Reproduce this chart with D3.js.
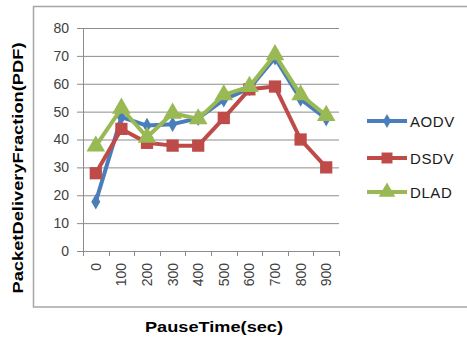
<!DOCTYPE html>
<html><head><meta charset="utf-8">
<script src="https://cdn.jsdelivr.net/npm/d3@7"></script>
<style>html,body{margin:0;padding:0;background:#fff;}svg{display:block;}</style>
</head><body>
<script>
const categories = ["0","100","200","300","400","500","600","700","800","900"];
const aodv = [17.7, 48, 45, 45.5, 47.6, 54.3, 58.3, 69.3, 54.5, 47.5];
const dsdv = [27.9, 43.8, 38.8, 37.8, 37.8, 47.7, 58, 59, 40, 30];
const dlad = [37.6, 51.2, 40.8, 49.4, 47.4, 56, 59, 70.4, 56, 48.6];
const yTicks = [0,10,20,30,40,50,60,70,80];
const seriesNames = ["AODV","DSDV","DLAD"];
const seriesColors = ["#4a7ebb","#be4b48","#98b954"];

const W = 467, H = 338;
const svg = d3.select("body").append("svg").attr("width", W).attr("height", H);

// outer frame
svg.append("rect").attr("x",33.5).attr("y",6.5).attr("width",W).attr("height",300.5)
  .attr("fill","none").attr("stroke","#a6a6a6").attr("stroke-width",1.5);

const x = d3.scaleBand().domain(categories).range([83, 339]);
const y = d3.scaleLinear().domain([0,80]).range([251, 28]);

// gridlines + y axis
const yAxis = d3.axisLeft(y).tickValues(yTicks).tickSize(6).tickPadding(8);
const gy = svg.append("g").attr("transform","translate(83,0)").call(yAxis);
gy.select(".domain").attr("stroke","#8c8c8c");
gy.selectAll(".tick line").attr("stroke","#8c8c8c");
gy.selectAll(".tick text").attr("fill","#404040").style("font-family","Liberation Sans, Arial, sans-serif").style("font-size","14px").attr("x",-14);
svg.append("g").selectAll("line").data(yTicks.filter(d=>d>0)).join("line")
  .attr("x1",83).attr("x2",339).attr("y1",d=>y(d)+0.5).attr("y2",d=>y(d)+0.5)
  .attr("stroke","#8c8c8c").attr("stroke-width",1);

// x axis
svg.append("line").attr("x1",83).attr("x2",339).attr("y1",y(0)+0.5).attr("y2",y(0)+0.5).attr("stroke","#8c8c8c");
const bounds = categories.map(c=>x(c)).concat([x.range()[1]]);
svg.append("g").selectAll("line").data(bounds).join("line")
  .attr("x1",d=>Math.round(d)+0.5).attr("x2",d=>Math.round(d)+0.5).attr("y1",y(0)).attr("y2",y(0)+5)
  .attr("stroke","#8c8c8c");
svg.append("g").selectAll("text").data(categories).join("text")
  .attr("transform",d=>`translate(${x(d)+x.bandwidth()/2+5},263) rotate(-90)`)
  .attr("text-anchor","end")
  .attr("fill","#404040").style("font-family","Liberation Sans, Arial, sans-serif").style("font-size","14px")
  .text(d=>d);

// series
const data = [aodv, dsdv, dlad];
const line = d3.line().x((d,i)=>x(categories[i])+x.bandwidth()/2).y(d=>y(d));
const symbols = [d3.symbolDiamond, d3.symbolSquare, d3.symbolTriangle];
const sizes = [70, 150, 150];
data.forEach((vals, s) => {
  svg.append("path").datum(vals).attr("d", line).attr("fill","none")
    .attr("stroke", seriesColors[s]).attr("stroke-width",4).attr("stroke-linejoin","round");
  svg.append("g").selectAll("path").data(vals).join("path")
    .attr("transform",(d,i)=>`translate(${x(categories[i])+x.bandwidth()/2},${y(d)})`)
    .attr("d", d3.symbol().type(symbols[s]).size(sizes[s]))
    .attr("fill", seriesColors[s]);
});

// legend
const legY = [121, 158, 192];
seriesNames.forEach((n, s) => {
  const g = svg.append("g");
  g.append("line").attr("x1",367).attr("x2",407).attr("y1",legY[s]).attr("y2",legY[s])
    .attr("stroke",seriesColors[s]).attr("stroke-width",4);
  g.append("path").attr("transform",`translate(387,${legY[s]})`)
    .attr("d", d3.symbol().type(symbols[s]).size(sizes[s]*0.8)).attr("fill",seriesColors[s]);
  g.append("text").attr("x",410).attr("y",legY[s]+5.5)
    .style("font-family","Liberation Sans, Arial, sans-serif").style("font-size","15px")
    .attr("fill","#1a1a1a").style("letter-spacing","0.6px").text(n);
});

// axis titles
svg.append("text").attr("transform","translate(23,168) rotate(-90)").attr("text-anchor","middle")
  .style("font-family","Liberation Sans, Arial, sans-serif").style("font-size","15px").style("font-weight","bold")
  .attr("textLength",251).attr("lengthAdjust","spacingAndGlyphs")
  .text("PacketDeliveryFraction(PDF)");
svg.append("text").attr("x",214).attr("y",332).attr("text-anchor","middle")
  .style("font-family","Liberation Sans, Arial, sans-serif").style("font-size","15px").style("font-weight","bold")
  .attr("textLength",138).attr("lengthAdjust","spacingAndGlyphs")
  .text("PauseTime(sec)");
</script>
</body></html>
